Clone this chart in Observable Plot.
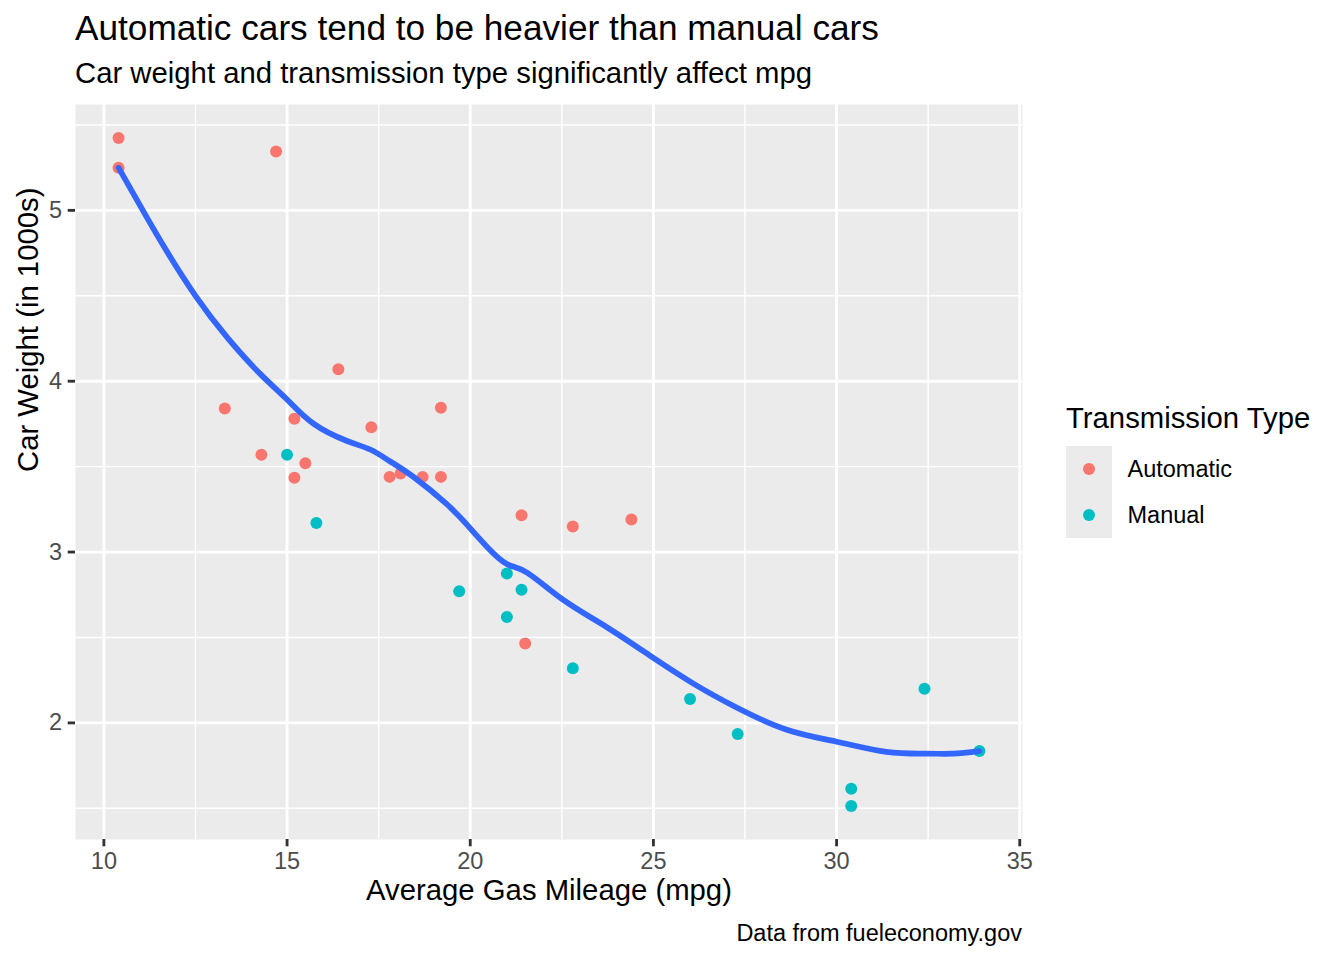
<!DOCTYPE html>
<html>
<head>
<meta charset="utf-8">
<script src="https://cdn.jsdelivr.net/npm/d3@7"></script>
<script src="https://cdn.jsdelivr.net/npm/@observablehq/plot@0.6"></script>
<style>
  html, body { margin: 0; padding: 0; background: #fff; }
  body { width: 1344px; height: 960px; overflow: hidden; font-family: "Liberation Sans", Arial, Helvetica, sans-serif; color: #000; }
  #title { height: 56px; line-height: 56px; font-size: 35.2px; padding-left: 75px; white-space: nowrap; }
  #subtitle { height: 34px; line-height: 34px; font-size: 29.3px; padding-left: 75px; white-space: nowrap; }
  #row { display: flex; flex-direction: row; align-items: flex-start; height: 820px; }
  #legend { padding-left: 26px; padding-top: 311px; }
  #legend .ltitle { font-size: 29.3px; line-height: 34px; height: 34px; margin-bottom: 11px; white-space: nowrap; }
  #legend .item { display: flex; align-items: center; height: 46px; }
  #legend .key { width: 46px; height: 46px; background: #EBEBEB; position: relative; }
  #legend .key span { position: absolute; left: 17px; top: 17px; width: 12px; height: 12px; border-radius: 50%; }
  #legend .lab { font-size: 23.5px; line-height: 46px; margin-left: 15.5px; white-space: nowrap; }
  #caption { width: 1022px; text-align: right; font-size: 23.5px; line-height: 28px; height: 28px; padding-top: 9px; white-space: nowrap; }
</style>
</head>
<body>
<div id="title">Automatic cars tend to be heavier than manual cars</div>
<div id="subtitle">Car weight and transmission type significantly affect mpg</div>
<div id="row">
  <div id="chart"></div>
  <div id="legend"></div>
</div>
<div id="caption">Data from fueleconomy.gov</div>
<script>
// ---- data (mtcars) ----
const mpg = [21.0, 21.0, 22.8, 21.4, 18.7, 18.1, 14.3, 24.4, 22.8, 19.2, 17.8, 16.4, 17.3, 15.2, 10.4, 10.4, 14.7, 32.4, 30.4, 33.9, 21.5, 15.5, 15.2, 13.3, 19.2, 27.3, 26.0, 30.4, 15.8, 19.7, 15.0, 21.4];
const wt = [2.620, 2.875, 2.320, 3.215, 3.440, 3.460, 3.570, 3.190, 3.150, 3.440, 3.440, 4.070, 3.730, 3.780, 5.250, 5.424, 5.345, 2.200, 1.615, 1.835, 2.465, 3.520, 3.435, 3.840, 3.845, 1.935, 2.140, 1.513, 3.170, 2.770, 3.570, 2.780];
const trans = ["Manual", "Manual", "Manual", "Automatic", "Automatic", "Automatic", "Automatic", "Automatic", "Automatic", "Automatic", "Automatic", "Automatic", "Automatic", "Automatic", "Automatic", "Automatic", "Automatic", "Manual", "Manual", "Manual", "Automatic", "Automatic", "Automatic", "Automatic", "Automatic", "Manual", "Manual", "Manual", "Manual", "Manual", "Manual", "Manual"];

// smooth (loess) curve
const smoothMpg = [10.4, 11.09, 11.73, 12.5, 13.37, 14.28, 15.0, 15.73, 16.64, 17.27, 17.82, 18.45, 19.36, 19.91, 20.46, 21.0, 21.55, 22.54, 23.73, 25.0, 26.09, 27.27, 28.64, 30.0, 31.36, 32.45, 33.18, 33.9];
const smoothWt = [5.25, 4.99, 4.756, 4.50, 4.255, 4.04, 3.893, 3.75, 3.65, 3.60, 3.53, 3.44, 3.28, 3.16, 3.03, 2.93, 2.88, 2.72, 2.56, 2.38, 2.23, 2.09, 1.96, 1.89, 1.83, 1.82, 1.82, 1.835];

const categories = ["Automatic", "Manual"];
const colors = ["#F8766D", "#00BFC4"];

const xTicks = [10, 15, 20, 25, 30, 35];
const xMinor = [12.5, 17.5, 22.5, 27.5, 32.5];
const yTicks = [2, 3, 4, 5];
const yMinor = [1.5, 2.5, 3.5, 4.5, 5.5];

// ---- build tables ----
const cars = mpg.map((m, i) => ({mpg: m, wt: wt[i], trans: trans[i]}));
const smooth = smoothMpg.map((m, i) => ({mpg: m, wt: smoothWt[i]}));

const chart = Plot.plot({
  width: 1040,
  height: 820,
  marginLeft: 75,
  marginRight: 18,
  marginTop: 14,
  marginBottom: 71,
  style: {fontFamily: "'Liberation Sans', Arial, Helvetica, sans-serif", background: "white"},
  x: {domain: [9.225, 35.075]},
  y: {domain: [1.3175, 5.6196]},
  color: {domain: categories, range: colors},
  marks: [
    Plot.frame({fill: "#EBEBEB", stroke: null}),
    Plot.gridX({ticks: xMinor, stroke: "white", strokeOpacity: 1, strokeWidth: 1.42}),
    Plot.gridY({ticks: yMinor, stroke: "white", strokeOpacity: 1, strokeWidth: 1.42}),
    Plot.gridX({ticks: xTicks, stroke: "white", strokeOpacity: 1, strokeWidth: 2.85}),
    Plot.gridY({ticks: yTicks, stroke: "white", strokeOpacity: 1, strokeWidth: 2.85}),
    Plot.dot(cars, {x: "mpg", y: "wt", fill: "trans", r: 6, stroke: null}),
    Plot.line(smooth, {x: "mpg", y: "wt", stroke: "#3366FF", strokeWidth: 5.7, curve: "natural"}),
    Plot.axisX({ticks: xTicks, tickFormat: d => String(d), tickSize: 7.3, tickPadding: 6, stroke: "#333333", strokeWidth: 2.85, fill: "#4D4D4D", fontSize: 23.5, label: null}),
    Plot.axisY({ticks: yTicks, tickFormat: d => String(d), tickSize: 7.3, tickPadding: 6, stroke: "#333333", strokeWidth: 2.85, fill: "#4D4D4D", fontSize: 23.5, label: null}),
    Plot.text(["Average Gas Mileage (mpg)"], {text: d => d, frameAnchor: "bottom", dy: 60, fontSize: 29.3, fill: "black"}),
    Plot.text(["Car Weight (in 1000s)"], {text: d => d, frameAnchor: "left", rotate: -90, dx: -46.5, fontSize: 29.3, fill: "black"})
  ]
});
document.getElementById("chart").appendChild(chart);

// ---- legend ----
const legend = document.getElementById("legend");
const lt = document.createElement("div");
lt.className = "ltitle";
lt.textContent = "Transmission Type";
legend.appendChild(lt);
categories.forEach((c, i) => {
  const item = document.createElement("div");
  item.className = "item";
  const key = document.createElement("div");
  key.className = "key";
  const dot = document.createElement("span");
  dot.style.background = colors[i];
  key.appendChild(dot);
  const lab = document.createElement("div");
  lab.className = "lab";
  lab.textContent = c;
  item.appendChild(key);
  item.appendChild(lab);
  legend.appendChild(item);
});
</script>
</body>
</html>
